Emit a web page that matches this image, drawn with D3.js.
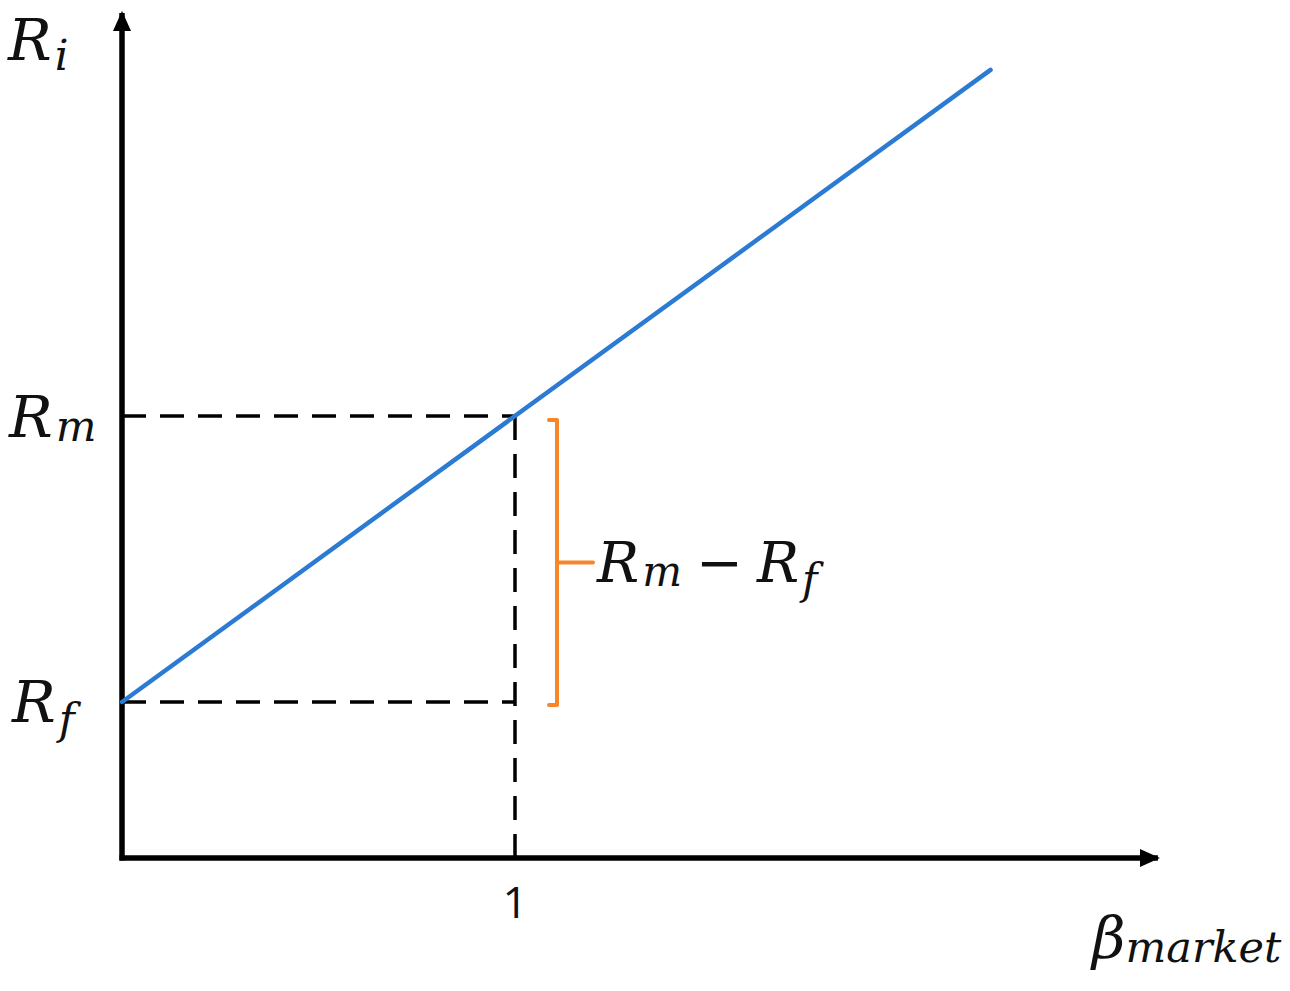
<!DOCTYPE html>
<meta charset="utf-8">
<script src="https://d3js.org/d3.v7.min.js"></script>
<style>
    body { margin: 0; background: #fff; }
    .math { font-family: 'DejaVu Serif', serif; font-style: italic; fill: #111; }
    .tick-label { font-family: 'Open Sans', sans-serif; font-size: 44px; fill: #111; }
</style>
<div id="chart"></div>
<script>
    // security market line values (returns are relative to R_m = 1)
    const lineBeta = [0, 2.21];
    const lineReturn = [0.353, 1.783];
    const betaTicks = [1];
    const levelNames = ["f", "m"];
    const levelValues = [0.353, 1.0];

    const width = 1290, height = 991;

    let svg = d3.select("#chart")
        .append("svg")
        .attr("width", width)
        .attr("height", height);

    let x = d3.scaleLinear().domain([0, 1]).range([122, 515]);
    let y = d3.scaleLinear().domain([0, 1]).range([858, 416]);

    // arrow heads
    let defs = svg.append("defs");
    defs.append("marker")
        .attr("id", "arrow")
        .attr("viewBox", "0 0 10 10")
        .attr("refX", 9).attr("refY", 5)
        .attr("markerUnits", "userSpaceOnUse")
        .attr("markerWidth", 20).attr("markerHeight", 20)
        .attr("orient", "auto")
        .append("path")
        .attr("d", "M0,0.5 L10,5 L0,9.5 Z")
        .attr("fill", "#000");

    // axes
    svg.append("line")
        .attr("x1", x(0)).attr("y1", y(0) + 2.5)
        .attr("x2", x(0)).attr("y2", y(1.912))
        .attr("stroke", "#000").attr("stroke-width", 5.5)
        .attr("marker-end", "url(#arrow)");
    svg.append("line")
        .attr("x1", x(0) - 2.5).attr("y1", y(0))
        .attr("x2", x(2.636)).attr("y2", y(0))
        .attr("stroke", "#000").attr("stroke-width", 5.5)
        .attr("marker-end", "url(#arrow)");

    // dashed guides
    levelValues.forEach(function (v) {
        svg.append("line")
            .attr("x1", x(0)).attr("y1", y(v))
            .attr("x2", x(1)).attr("y2", y(v))
            .attr("stroke", "#000").attr("stroke-width", 3.5)
            .attr("stroke-dasharray", "24,14");
    });
    svg.append("line")
        .attr("x1", x(1)).attr("y1", y(1))
        .attr("x2", x(1)).attr("y2", y(0))
        .attr("stroke", "#000").attr("stroke-width", 3.5)
        .attr("stroke-dasharray", "24,14");

    // the line
    let line = d3.line()
        .x(function (d, i) { return x(d); })
        .y(function (d, i) { return y(lineReturn[i]); });
    svg.append("path")
        .datum(lineBeta)
        .attr("d", line)
        .attr("fill", "none")
        .attr("stroke", "#2b7bd3")
        .attr("stroke-width", 4.5)
        .attr("stroke-linecap", "round");

    // orange bracket for R_m - R_f
    let bx = x(1) + 42;
    let yTop = y(levelValues[1]) + 4, yBot = y(levelValues[0]) + 3;
    let yMid = (yTop + yBot) / 2;
    svg.append("path")
        .attr("d", "M" + (bx - 8) + "," + yTop + " H" + bx + " V" + yBot + " H" + (bx - 8)
            + " M" + bx + "," + yMid + " H" + (bx + 36))
        .attr("fill", "none")
        .attr("stroke", "#f7862a")
        .attr("stroke-width", 4)
        .attr("stroke-linejoin", "round")
        .attr("stroke-linecap", "round");

    // math label: base letter with a subscript
    function mathLabel(px, py, base, sub, size, subDy) {
        let t = svg.append("text")
            .attr("class", "math")
            .attr("x", px).attr("y", py)
            .style("font-size", size + "px");
        t.append("tspan").text(base);
        t.append("tspan")
            .attr("dx", 3)
            .attr("dy", subDy)
            .style("font-size", Math.round(size * 0.74) + "px")
            .text(sub);
        return t;
    }

    mathLabel(8, 60, "R", "i", 58, 10);
    mathLabel(9, 437, "R", levelNames[1], 58, 4);
    mathLabel(12, 722, "R", levelNames[0], 58, 12);

    // difference label
    let diff = svg.append("text")
        .attr("class", "math")
        .attr("x", bx + 40).attr("y", yMid + 20)
        .style("font-size", "56px");
    diff.append("tspan").text("R");
    diff.append("tspan").attr("dx", 3).attr("dy", 4).style("font-size", "42px").text(levelNames[1]);
    diff.append("tspan").attr("dx", 14).attr("dy", -4).style("font-style", "normal").text("\u2212");
    diff.append("tspan").attr("dx", 14).text("R");
    diff.append("tspan").attr("dx", 3).attr("dy", 12).style("font-size", "42px").text(levelNames[0]);

    // x tick label
    svg.selectAll(".tick-label")
        .data(betaTicks)
        .enter()
        .append("text")
        .attr("class", "tick-label")
        .attr("x", function (d) { return x(d); })
        .attr("y", 918)
        .attr("text-anchor", "middle")
        .text(function (d) { return d; });

    // x axis title
    let xt = svg.append("text")
        .attr("class", "math")
        .attr("x", 1092).attr("y", 958)
        .style("font-size", "58px");
    xt.append("tspan").text("\u03B2");
    xt.append("tspan").attr("dy", 4).style("font-size", "43px").text("market");
</script>
